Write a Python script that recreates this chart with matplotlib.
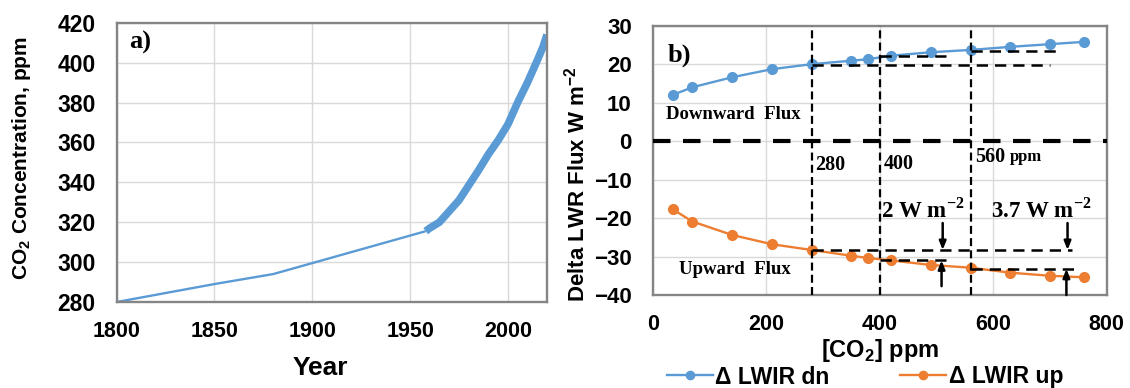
import matplotlib
matplotlib.use("Agg")
import matplotlib.pyplot as plt
import numpy as np

# panel a) CO2 history
hist_years = [1800, 1850, 1880, 1900, 1958]
hist_co2 = [280, 289, 294, 299.5, 315.5]
ml_years = [1958, 1960, 1965, 1970, 1975, 1980, 1985, 1990, 1995, 2000, 2005, 2010, 2015, 2018, 2020]
ml_co2 = [315.5, 317, 320, 325.5, 331, 338.5, 346, 354, 361, 369, 380, 390, 401, 408, 414]

# panel b) flux change vs CO2
co2_ppm = [35, 70, 140, 210, 280, 350, 380, 420, 490, 560, 630, 700, 760]
lwir_dn = [12.0, 14.0, 16.6, 18.7, 20.0, 20.9, 21.3, 22.2, 23.1, 23.7, 24.5, 25.2, 25.8]
lwir_up = [-17.7, -20.9, -24.4, -26.8, -28.3, -29.8, -30.4, -31.0, -32.2, -32.9, -34.2, -35.0, -35.4]

ref_ppm = [280, 400, 560]
dn_levels = [19.8, 22.1, 23.5]
dn_ends = [700, 520, 712]
up_levels = [-28.3, -31.0, -33.2]
up_ends = [738, 520, 745]

BLUE = "#5B9BD5"
ORANGE = "#ED7D31"
GRID = "#d9d9d9"
SPINE = "#858585"
SANS = "Liberation Sans"
SERIF = "Liberation Serif"

plt.rcParams["font.family"] = SANS
plt.rcParams["font.weight"] = "bold"

fig = plt.figure(figsize=(11.3, 3.88), dpi=100)
W, H = 1130.0, 388.0


def box(l, t, r, b):
    return [l / W, 1 - b / H, (r - l) / W, (b - t) / H]


def style(ax, ysize):
    ax.grid(True, color=GRID, lw=1.0)
    ax.set_axisbelow(True)
    for s in ax.spines.values():
        s.set_color(SPINE)
        s.set_linewidth(1.7)
    ax.tick_params(axis="x", length=0, labelsize=15.5, pad=14)
    ax.tick_params(axis="y", length=0, labelsize=ysize, pad=15)
    for lab in ax.get_xticklabels() + ax.get_yticklabels():
        lab.set_fontweight("bold")


# ---- panel a
ax1 = fig.add_axes(box(116.7, 22.7, 547, 302))
ax1.plot(hist_years, hist_co2, color=BLUE, lw=1.7, solid_capstyle="butt")
ax1.plot(ml_years, ml_co2, color=BLUE, lw=5.5, solid_capstyle="butt")
ax1.set_xlim(1800, 2020)
ax1.set_ylim(280, 420)
ax1.set_xticks(np.arange(1800, 2001, 50))
ax1.set_yticks(np.arange(280, 421, 20))
style(ax1, 16.5)
ax1.text(1806.5, 410, "a)", family=SERIF, weight="bold", fontsize=19, va="center", ha="left")

# ---- panel b
ax2 = fig.add_axes(box(652.7, 25.7, 1106.7, 295))
ax2.plot(co2_ppm, lwir_dn, color=BLUE, lw=1.7, marker="o", ms=7, label="\u0394 LWIR dn")
ax2.plot(co2_ppm, lwir_up, color=ORANGE, lw=1.7, marker="o", ms=7, label="\u0394 LWIR up")
ax2.set_xlim(0, 800)
ax2.set_ylim(-40, 30)
ax2.set_xticks(np.arange(0, 801, 200))
ax2.set_yticks(np.arange(-40, 31, 10))
style(ax2, 16)

ax2.axhline(0, color="black", lw=3.0, dashes=(4.2, 3.0), zorder=3)
for p in ref_ppm:
    ax2.axvline(p, color="black", lw=1.6, dashes=(3.6, 1.9), zorder=3)
for p, lv, e in zip(ref_ppm, dn_levels, dn_ends):
    ax2.plot([p, e], [lv, lv], color="black", lw=1.8, dashes=(4.5, 2.8), zorder=3)
for p, lv, e in zip(ref_ppm, up_levels, up_ends):
    ax2.plot([p, e], [lv, lv], color="black", lw=1.8, dashes=(4.5, 2.8), zorder=3)

arrow_kw = dict(arrowstyle="-|>,head_length=0.5,head_width=0.2", color="black", lw=1.8, shrinkA=0, shrinkB=0)
ax2.annotate("", xy=(511, up_levels[0]), xytext=(511, -21.3), arrowprops=arrow_kw)
ax2.annotate("", xy=(509, up_levels[1]), xytext=(509, -37.7), arrowprops=arrow_kw)
ax2.annotate("", xy=(731, up_levels[0]), xytext=(731, -21.3), arrowprops=arrow_kw)
ax2.annotate("", xy=(729, up_levels[2]), xytext=(729, -40), arrowprops=arrow_kw)

ser = dict(family=SERIF, weight="bold", va="center", ha="left")
ax2.text(27, 22.4, "b)", fontsize=19, **ser)
ax2.text(23, 6.8, "Downward  Flux", fontsize=13.5, **ser)
ax2.text(46, -33.5, "Upward  Flux", fontsize=13.5, **ser)
ax2.text(286, -6.2, "280", fontsize=14.5, **ser)
ax2.text(408, -6.0, "400", fontsize=14.5, **ser)
ax2.text(568, -4.0, "560", fontsize=14.5, **ser)
ax2.text(630, -4.0, "ppm", fontsize=12, **ser)
ax2.text(403, -17.9, "2 W m$^\\mathregular{-2}$", fontsize=16.5, **ser)
ax2.text(597, -17.9, "3.7 W m$^\\mathregular{-2}$", fontsize=16.5, **ser)

# axis labels placed in figure pixels
fig.text(320 / W, 1 - 368 / H, "Year", fontsize=19, weight="bold", ha="center", va="center")
fig.text(22 / W, 1 - 158 / H, "CO$_\\mathregular{2}$ Concentration, ppm", fontsize=15, weight="bold",
         rotation=90, ha="center", va="center")
fig.text(880 / W, 1 - 350 / H, "[CO$_\\mathregular{2}$] ppm", fontsize=17, weight="bold", ha="center", va="center")
fig.text(577 / W, 1 - 184 / H, "Delta LWR Flux W m$^\\mathregular{-2}$", fontsize=16, weight="bold",
         rotation=90, ha="center", va="center")

fig.legend(loc="center", bbox_to_anchor=(865 / W, 1 - 377 / H), ncol=2, frameon=False,
           prop=dict(family=SANS, weight="bold", size=16.5), handlelength=2.0,
           handletextpad=0.1, columnspacing=3.1, borderpad=0, markerscale=0.85)

fig.savefig("out.png", dpi=100)
